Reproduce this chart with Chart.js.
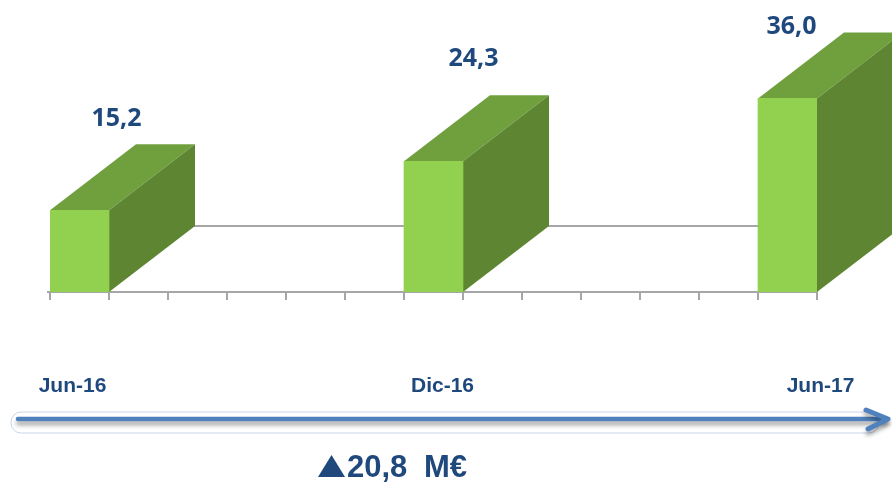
<!DOCTYPE html>
<html>
<head>
<meta charset="utf-8">
<script src="https://cdn.jsdelivr.net/npm/chart.js@4.4.1/dist/chart.umd.min.js"></script>
<style>
    html, body { margin: 0; padding: 0; background: #fff; overflow: hidden; }
    #wrap { width: 892px; height: 482px; position: relative; }
</style>
</head>
<body>
<div id="wrap"><canvas id="debtChart"></canvas></div>
<script>
// Monthly slots Jun-16 .. Jun-17, values only at the three reporting dates
const months = ['Jun-16', 'Jul-16', 'Ago-16', 'Sep-16', 'Oct-16', 'Nov-16', 'Dic-16',
                'Ene-17', 'Feb-17', 'Mar-17', 'Abr-17', 'May-17', 'Jun-17'];
const debt = [15.2, null, null, null, null, null, 24.3, null, null, null, null, null, 36.0];
const shownMonths = ['Jun-16', 'Dic-16', 'Jun-17'];
const changeAmount = '20,8';
const changeUnit = 'M\u20AC';
const yMax = 54.3;

// 3D look
const DX = 86, DY = 66;
const FRONT = '#92d050', TOP = '#70a03e', SIDE = '#5e8632';
const NAVY = '#1f497d';

// small per-label nudges so the texts sit where the original slide had them
const valueShift = [[37, -91], [40, -102], [4, -72]];
const monthShift = [-7, 9, 33];

const fmt = v => v.toFixed(1).replace('.', ',');

const bar3d = {
    id: 'bar3d',
    beforeDatasetsDraw(chart) {
        const ctx = chart.ctx;
        const a = chart.chartArea;
        const step = (a.right - a.left) / months.length;

        ctx.save();
        // back floor line + front axis with ticks
        ctx.strokeStyle = '#a6a6a6';
        ctx.lineWidth = 2;
        ctx.beginPath();
        ctx.moveTo(a.left + DX, a.bottom - DY);
        ctx.lineTo(chart.width, a.bottom - DY);
        ctx.moveTo(a.left - 3, a.bottom);
        ctx.lineTo(a.right + 1, a.bottom);
        for (let i = 0; i <= months.length; i++) {
            const x = a.left + i * step;
            ctx.moveTo(x, a.bottom);
            ctx.lineTo(x, a.bottom + 8);
        }
        ctx.stroke();

        // top and side faces
        const meta = chart.getDatasetMeta(0);
        meta.data.forEach((bar, i) => {
            if (debt[i] == null) return;
            const p = bar.getProps(['x', 'y', 'base', 'width'], true);
            const l = p.x - p.width / 2, r = p.x + p.width / 2;
            ctx.fillStyle = TOP;
            ctx.beginPath();
            ctx.moveTo(l, p.y);
            ctx.lineTo(r, p.y);
            ctx.lineTo(r + DX, p.y - DY);
            ctx.lineTo(l + DX, p.y - DY);
            ctx.closePath();
            ctx.fill();
            ctx.fillStyle = SIDE;
            ctx.beginPath();
            ctx.moveTo(r, p.y);
            ctx.lineTo(r + DX, p.y - DY);
            ctx.lineTo(r + DX, p.base - DY);
            ctx.lineTo(r, p.base);
            ctx.closePath();
            ctx.fill();
        });
        ctx.restore();
    },
    afterDraw(chart) {
        const ctx = chart.ctx;
        const meta = chart.getDatasetMeta(0);
        ctx.save();

        // values above bars
        let k = 0;
        ctx.fillStyle = NAVY;
        ctx.textAlign = 'center';
        ctx.textBaseline = 'middle';
        ctx.font = 'bold 25px "Open Sans", Lato, sans-serif';
        meta.data.forEach((bar, i) => {
            if (debt[i] == null) return;
            const s = valueShift[k++];
            ctx.fillText(fmt(debt[i]), bar.x + s[0], bar.y + s[1]);
        });

        // month labels
        ctx.font = 'bold 21px "Liberation Sans", Arial, sans-serif';
        ctx.textBaseline = 'alphabetic';
        shownMonths.forEach((m, j) => {
            const x = chart.scales.x.getPixelForValue(months.indexOf(m));
            ctx.fillText(m, x + monthShift[j], 392);
        });

        // timeline arrow
        ctx.strokeStyle = '#cad6e8';
        ctx.lineWidth = 1;
        ctx.beginPath();
        ctx.roundRect(11, 412, 868, 21, 10);
        ctx.stroke();

        ctx.shadowColor = 'rgba(0,0,0,0.35)';
        ctx.shadowBlur = 4;
        ctx.shadowOffsetY = 4;
        ctx.strokeStyle = '#4f81bd';
        ctx.lineCap = 'round';
        ctx.lineJoin = 'round';
        ctx.lineWidth = 4.5;
        ctx.beginPath();
        ctx.moveTo(18, 419);
        ctx.lineTo(886, 419);
        ctx.stroke();
        ctx.lineWidth = 5;
        ctx.beginPath();
        ctx.moveTo(866, 410);
        ctx.lineTo(888, 419);
        ctx.lineTo(868, 429);
        ctx.stroke();
        ctx.shadowColor = 'transparent';

        // change summary: up-triangle then amount and unit
        ctx.fillStyle = NAVY;
        ctx.beginPath();
        ctx.moveTo(318, 477);
        ctx.lineTo(331.5, 455);
        ctx.lineTo(345, 477);
        ctx.closePath();
        ctx.fill();
        ctx.textAlign = 'left';
        ctx.font = 'bold 31px "Liberation Sans", Arial, sans-serif';
        ctx.fillText(changeAmount, 347, 477);
        ctx.fillText(changeUnit, 424, 477);
        ctx.restore();
    }
};

new Chart(document.getElementById('debtChart'), {
    type: 'bar',
    data: {
        labels: months,
        datasets: [{
            data: debt,
            backgroundColor: FRONT,
            borderWidth: 0,
            categoryPercentage: 1,
            barPercentage: 1
        }]
    },
    options: {
        responsive: true,
        maintainAspectRatio: false,
        animation: false,
        layout: { padding: { left: 50, right: 75, top: 0, bottom: 190 } },
        scales: {
            x: { display: false },
            y: { display: false, min: 0, max: yMax }
        },
        plugins: {
            legend: { display: false },
            tooltip: { enabled: false }
        }
    },
    plugins: [bar3d]
});
</script>
</body>
</html>
